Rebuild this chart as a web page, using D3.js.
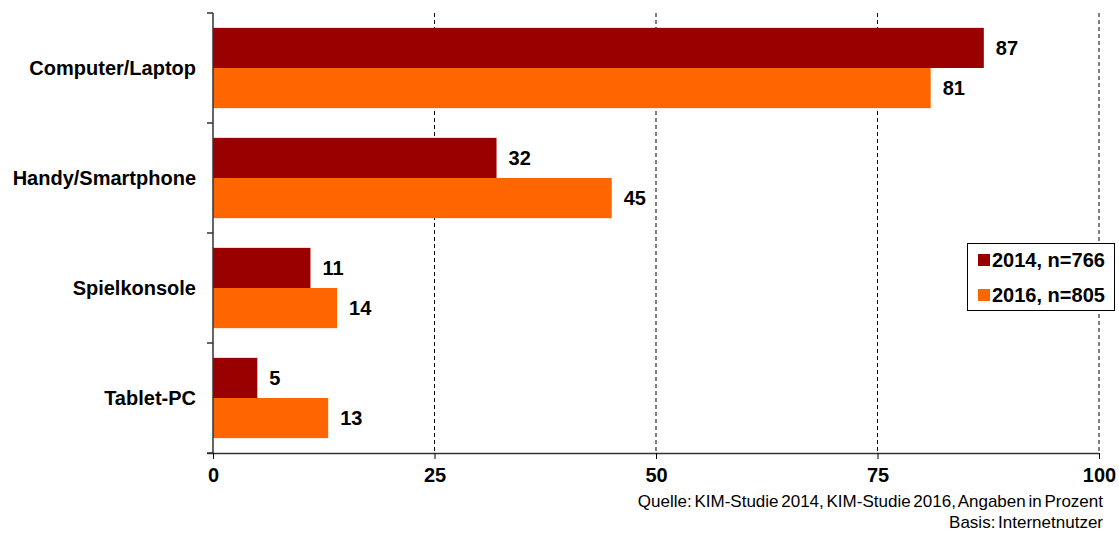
<!DOCTYPE html>
<html><head><meta charset="utf-8">
<script src="https://cdn.jsdelivr.net/npm/d3@7"></script>
<style>
body{margin:0;background:#fff;}
text{font-family:"Liberation Sans",Arial,sans-serif;}
</style></head>
<body><svg id="c" width="1119" height="533"></svg>
<script>
const categories = ["Computer/Laptop","Handy/Smartphone","Spielkonsole","Tablet-PC"];
const series = ["2014, n=766","2016, n=805"];
const values2014 = [87,32,11,5];
const values2016 = [81,45,14,13];
const xTicks = [0,25,50,75,100];
const colors = ["#990000","#FF6600"];
const sourceLines = ["Quelle: KIM-Studie 2014, KIM-Studie 2016, Angaben in Prozent","Basis: Internetnutzer"];

const svg = d3.select("#c");
const m = {l:213,r:1099,t:13,b:453};
const x = d3.scaleLinear().domain([0,100]).range([m.l,m.r]);
const y = d3.scaleBand().domain(categories).range([m.t,m.b]).paddingInner(0.27).paddingOuter(0.135);
const ySub = d3.scaleBand().domain([0,1]).range([0,y.bandwidth()]);

// gridlines
svg.append("g").selectAll("line").data(xTicks.filter(d=>d>0)).join("line")
 .attr("x1",d=>x(d)).attr("x2",d=>x(d)).attr("y1",m.t).attr("y2",m.b)
 .attr("stroke","#000").attr("stroke-width",1).attr("stroke-dasharray","4,3");

const data = [values2014, values2016];
data.forEach((vals,si)=>{
  svg.append("g").selectAll("rect").data(vals).join("rect")
   .attr("x",x(0)).attr("y",(d,i)=>y(categories[i])+ySub(si))
   .attr("width",d=>x(d)-x(0)).attr("height",ySub.bandwidth())
   .attr("fill",colors[si]);
  svg.append("g").selectAll("text").data(vals).join("text")
   .attr("x",d=>x(d)+12).attr("y",(d,i)=>y(categories[i])+ySub(si)+ySub.bandwidth()/2)
   .attr("dy","0.36em").attr("font-size",20).attr("font-weight","bold").text(d=>d);
});

// x axis
const xAxis = d3.axisBottom(x).tickValues(xTicks).tickSize(6).tickPadding(9);
const gx = svg.append("g").attr("transform",`translate(0,${m.b})`).call(xAxis);
gx.select(".domain").attr("d",`M${m.l-6},0.5H${m.r}`).attr("stroke","#333").attr("stroke-width",1.5);
gx.selectAll(".tick line").attr("stroke","#000");
gx.selectAll(".tick text").attr("font-size",20).attr("font-weight","bold").attr("fill","#000")
 .attr("font-family","Liberation Sans, Arial, sans-serif");

// y axis line and ticks between categories
const yEdges = d3.range(categories.length+1).map(i=>m.t+i*(m.b-m.t)/categories.length);
svg.append("line").attr("x1",m.l).attr("x2",m.l).attr("y1",m.t).attr("y2",m.b).attr("stroke","#333").attr("stroke-width",1.5);
svg.append("g").selectAll("line").data(yEdges).join("line")
 .attr("x1",m.l-6).attr("x2",m.l).attr("y1",d=>d).attr("y2",d=>d).attr("stroke","#333").attr("stroke-width",1.5);
svg.append("g").selectAll("text").data(categories).join("text")
 .attr("x",196).attr("y",d=>y(d)+y.bandwidth()/2).attr("dy","0.36em").attr("text-anchor","end")
 .attr("font-size",20).attr("font-weight","bold").text(d=>d);

// legend
const lg = svg.append("g");
lg.append("rect").attr("x",967.5).attr("y",243.5).attr("width",147).attr("height",67).attr("fill","#fff").attr("stroke","#000").attr("stroke-width",1);
series.forEach((s,i)=>{
  lg.append("rect").attr("x",978).attr("y",254+i*35).attr("width",12).attr("height",12).attr("fill",colors[i]);
  lg.append("text").attr("x",992).attr("y",260+i*35).attr("dy","0.36em").attr("font-size",20).attr("font-weight","bold").text(s);
});

// source
svg.append("g").selectAll("text").data(sourceLines).join("text")
 .attr("x",1103).attr("y",(d,i)=>507+i*21).attr("text-anchor","end").attr("font-size",17).attr("word-spacing","-2px").text(d=>d);
</script></body></html>
